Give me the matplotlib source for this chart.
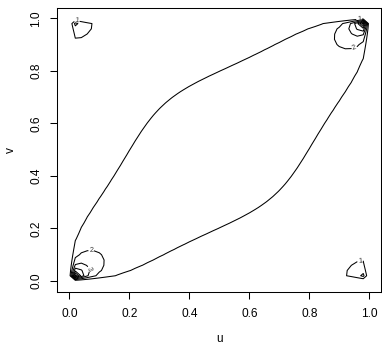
import numpy as np, math
import matplotlib
matplotlib.use("Agg")
import matplotlib.pyplot as plt

# ---- data: bivariate Student-t copula density on a 51 x 51 grid over [0,1]^2
RHO = 0.3          # correlation parameter
NU = 2.0           # degrees of freedom
N_GRID = 51
levels = [1, 2, 3, 4, 5, 6, 7]
x_ticks = [0.0, 0.2, 0.4, 0.6, 0.8, 1.0]
y_ticks = [0.0, 0.2, 0.4, 0.6, 0.8, 1.0]
tick_labels = ["0.0", "0.2", "0.4", "0.6", "0.8", "1.0"]
x_label = "u"
y_label = "v"


def qt(u, nu):
    z = np.linspace(-40, 40, 400001)
    xs = np.sinh(z)
    c1 = math.lgamma((nu + 1) / 2) - math.lgamma(nu / 2) - 0.5 * math.log(nu * math.pi)
    f = np.exp(c1 - (nu + 1) / 2 * np.log1p(xs ** 2 / nu)) * np.cosh(z)
    cdf = np.concatenate([[0], np.cumsum((f[1:] + f[:-1]) / 2 * np.diff(z))])
    cdf /= cdf[-1]
    return np.sinh(np.interp(u, cdf, z))


def t_copula_density(u, v, rho, nu):
    x = qt(u, nu)
    y = qt(v, nu)
    s2 = 1 - rho ** 2
    l2 = (math.lgamma((nu + 2) / 2) - math.lgamma(nu / 2) - math.log(nu * math.pi)
          - 0.5 * math.log(s2) - (nu + 2) / 2 * np.log1p((x ** 2 + y ** 2 - 2 * rho * x * y) / (nu * s2)))
    c1 = math.lgamma((nu + 1) / 2) - math.lgamma(nu / 2) - 0.5 * math.log(nu * math.pi)
    l1x = c1 - (nu + 1) / 2 * np.log1p(x ** 2 / nu)
    l1y = c1 - (nu + 1) / 2 * np.log1p(y ** 2 / nu)
    return np.exp(l2 - l1x - l1y)


grid = np.linspace(0, 1, N_GRID)
GU, GV = np.meshgrid(grid, grid)
Z = np.zeros_like(GU)
inner = (slice(1, -1), slice(1, -1))
Z[inner] = t_copula_density(GU[inner], GV[inner], RHO, NU)   # density undefined on the border -> 0

# ---- figure (R base-graphics look)
plt.rcParams['font.family'] = ['Liberation Sans', 'DejaVu Sans']
FS = 8.6
fig = plt.figure(figsize=(3.82, 3.44), dpi=100)
ax = fig.add_axes([0.150, 0.1526, 0.848, 0.8247])

label_pos = {
    1: [(0.967, 0.985), (0.025, 0.99), (0.970, 0.07)],
    2: [(0.95, 0.888), (0.073, 0.115)],
    3: [(0.057, 0.039)],
}
for lev in levels:
    cs = ax.contour(grid, grid, Z, levels=[lev], colors='black', linewidths=0.75)
    if lev in label_pos:
        ax.clabel(cs, manual=label_pos[lev], fontsize=5.2, inline=True,
                  inline_spacing=1, fmt='%d', colors='#333333')

ax.set_xlim(-0.04, 1.04)
ax.set_ylim(-0.04, 1.04)
ax.set_xticks(x_ticks)
ax.set_xticklabels(tick_labels)
ax.set_yticks(y_ticks)
ax.set_yticklabels(tick_labels, rotation=90, va='center')
ax.tick_params(direction='out', length=5, width=0.75, labelsize=FS, color='black',
               labelcolor='black')
ax.tick_params(axis='x', pad=7)
ax.tick_params(axis='y', pad=6)
for sp in ax.spines.values():
    sp.set_linewidth(0.75)
    sp.set_color('black')
ax.set_xlabel(x_label, fontsize=FS, labelpad=9.5)
ax.set_ylabel(y_label, fontsize=FS, labelpad=9.5)

fig.savefig("out.png", dpi=100)
